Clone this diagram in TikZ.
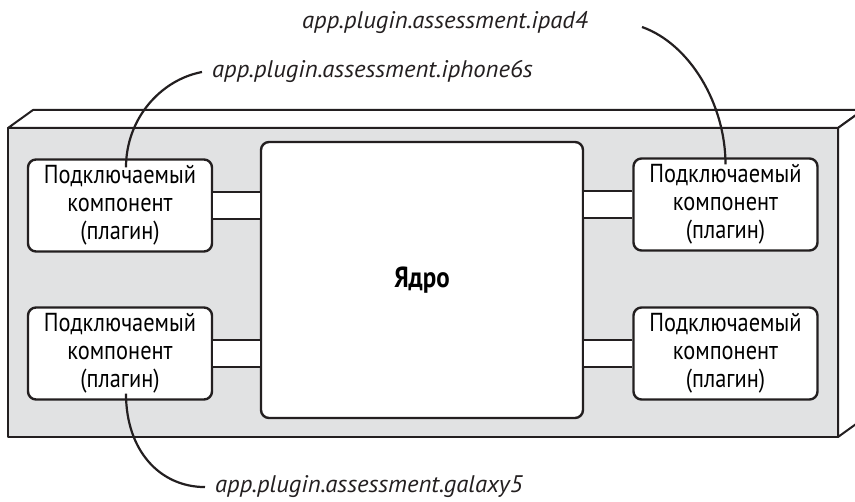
\documentclass[tikz,border=0pt]{standalone}
\usepackage{fontspec}
\setmainfont{PT Sans}[FakeStretch=0.86]
\newfontfamily\lblfont{PT Sans}[FakeStretch=1.03]
\usetikzlibrary{calc}
\usetikzlibrary{positioning}

\definecolor{slab}{HTML}{E1E2E3}
\definecolor{ink}{HTML}{231F20}

\tikzset{
  plug/.style={draw=ink, fill=white, rounded corners=8pt, line width=2.4pt,
    minimum width=184pt, minimum height=92pt, inner sep=0pt, align=center,
    font=\fontsize{26}{28}\selectfont},
  core/.style={draw=ink, fill=white, rounded corners=8pt, line width=2.4pt,
    minimum width=322pt, minimum height=276pt,
    font=\bfseries\fontsize{29}{32}\selectfont},
  lbl/.style={inner ysep=2pt, inner xsep=10pt, text=ink,
    font=\lblfont\itshape\fontsize{24}{28}\selectfont},
  bar/.style={draw=ink, line width=2.4pt},
  lead/.style={draw=ink, line width=2.2pt},
}

\begin{document}
\begin{tikzpicture}[x=1pt,y=-1pt,line join=round]
  \useasboundingbox (0,0) rectangle (855,502);

  % slab
  \draw[ink, line width=2pt, fill=white] (8,128) -- (33,110) -- (863,110) -- (838,128) -- cycle;
  \draw[ink, line width=2pt, fill=white] (838,128) -- (863,110) -- (863,419) -- (838,437) -- cycle;
  \draw[ink, line width=2.8pt, fill=slab] (8,128) rectangle (838,437);

  % core
  \node[core] (core) at (422,280) {Ядро};

  % plugins
  \foreach \n/\x/\y in {pl1/120/205.5, pl2/725.5/204.5, pl3/120/353.5, pl4/725.5/353.5}{
    \node[plug] (\n) at (\x,\y) {Подключаемый\\компонент\\(плагин)};
  }

  % bars between plugins and core
  \foreach \n/\a/\b in {pl1/east/west, pl3/east/west, pl2/west/east, pl4/west/east}{
    \fill[white] ($(\n.\a)+(0,-13.5)$) rectangle ($(core.\b |- \n.\a)+(0,13.5)$);
    \draw[bar] ($(\n.\a)+(0,-13.5)$) -- ($(core.\b |- \n.\a)+(0,-13.5)$);
    \draw[bar] ($(\n.\a)+(0,13.5)$) -- ($(core.\b |- \n.\a)+(0,13.5)$);
  }

  % labels
  \node[lbl, anchor=base west] (ipad) at (292,29) {app.plugin.assessment.ipad4};
  \node[lbl, anchor=base west] (iph) at (202,78) {app.plugin.assessment.iphone6s};
  \node[lbl, anchor=base west] (gal) at (205,493) {app.plugin.assessment.galaxy5};
  \coordinate (ipadtip) at (642,27);

  % leads
  \draw[lead] (iph.west) .. controls +(-42,8) and +(0,-48) .. ($(pl1.north)+(6,9)$);
  \draw[lead] (ipadtip) .. controls +(48,17) and +(0,-60) .. ($(pl2.north)+(0,7)$);
  \draw[lead] ($(pl3.south)+(6,-7)$) .. controls +(0,57) and +(-45,0) .. (gal.west);
\end{tikzpicture}
\end{document}
